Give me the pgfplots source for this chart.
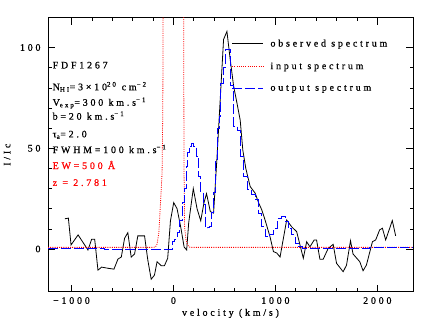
\documentclass[border=0pt]{standalone}
\usepackage{fontspec}
\setmainfont{Liberation Serif}[LetterSpace=28, FakeBold=0.6]
\usepackage{pgfplots}
\pgfplotsset{compat=1.18}
\newcommand\pg{\fontsize{10}{12}\selectfont}
\begin{document}
\begin{tikzpicture}
\begin{axis}[
 scale only axis, width=365bp, height=274bp,
 xmin=-1230, xmax=2350, ymin=-21.2, ymax=114.8,
 xtick={-1000,0,1000,2000}, xticklabels={−1000,0,1000,2000},
 minor x tick num=4,
 ytick={0,50,100}, yticklabels={0,50,100},
 minor y tick num=4,
 major tick length=7bp, minor tick length=3.5bp,
 tick style={black, line width=0.6pt},
 axis line style={line width=0.8pt},
 ticklabel style={font=\pg},
 xticklabel style={yshift=-2bp},
 yticklabel style={xshift=-4bp},
 xlabel={velocity (km/s)}, ylabel={I/Ic},
 label style={font=\pg},
 xlabel style={at={(axis description cs:0.5,-0.079)}, anchor=center},
 ylabel style={at={(axis description cs:-0.112,0.5)}, anchor=center},
 legend style={at={(axis cs:570,105)}, anchor=north west, draw=none, fill=none, font=\pg, row sep=10.5bp, inner sep=0pt,
   /tikz/every odd column/.append style={column sep=5bp}},
 legend cell align=left,
 legend image code/.code={\draw[#1] plot coordinates {(0bp,0bp) (31bp,0bp)};},
]
\addplot[black, line width=0.8pt] coordinates {
(-1065,15) (-1030,15.3) (-1004,2) (-935,7) (-838,-0.5) (-802,4.8) (-772,4.8)
(-740,-10.5) (-704,-9) (-638,-9.6) (-583,-10) (-544,-5) (-511,-4) (-479,5.3)
(-447,8.1) (-414,-4) (-381,-2.5) (-349,6.5) (-283,6.5) (-251,-5.5) (-218,-15)
(-186,-13) (-160,-6.3) (-120,-8.3) (-88,-8.3) (-56,-4.6) (-29,14) (3,23) (36,20)
(75,10) (105,1) (130,-0.5) (150,13) (195,30) (232,20) (268,14) (300,23) (325,27.5)
(362,18.6) (394,17.8) (427,45) (460,75) (492,104) (525,108) (555,95) (590,81)
(625,72) (655,64) (681,49) (710,40) (753,31) (802,27.7) (835,23) (867,19.4)
(899,14.4) (948,6) (981,-1.3) (1014,-2) (1046,-4) (1111,14.4) (1160,11) (1209,8.6)
(1274,-4.6) (1307,3.6) (1339,1.1) (1381,4.5) (1404,4.5) (1437,-5.1) (1469,-5.1)
(1518,0.3) (1567,2.3) (1600,-7.1) (1665,-11.3) (1698,-8) (1737,4.1) (1762,-2.5)
(1828,-6.3) (1860,-10.8) (1893,-8) (1952,3.6) (1984,4.5) (2023,9.5) (2050,10.3)
(2082,4.5) (2147,14.1) (2180,6.5)
};
\addlegendentry{observed spectrum}
\addplot[red, line width=0.8pt, dash pattern=on 1bp off 1.2bp] coordinates {
(-1230,0.8) (-200,0.8) (-176,1) (-160,2.5) (-143,8) (-134,16) (-120,29) (-111,38)
(-104,70) (-100,130) (-95,300) (95,300) (100,130) (104,40) (110,11) (122,5)
(134,2.8) (150,1.2) (166,0.8) (2350,0.8)
};
\addlegendentry{input spectrum}
\addplot[blue, line width=0.8pt, dash pattern=on 10bp off 3bp, const plot mark mid] coordinates {
(-1230,0.3) (-127,-0.3) (-29,0) (3,3.6) (20,5) (50,8) (75,14) (100,23) (120,30)
(134,41) (150,48) (166,51) (190,52.5) (210,51) (232,46) (258,36) (280,28) (300,22)
(320,11) (340,10.5) (362,11) (380,18) (405,28) (420,44) (440,60) (453,66) (476,82)
(500,90) (518,99) (541,99) (574,81) (606,61) (648,59) (671,46) (704,36) (753,29.4)
(785,27) (818,24.4) (850,17.8) (880,11) (916,6.1) (965,7) (1000,10) (1046,15.3)
(1078,16) (1111,13.6) (1140,10) (1176,7) (1210,3) (1241,1.1) (1280,0.5) (1900,0.5)
(1950,1) (2200,1) (2250,0.6) (2350,0.6)
};
\addlegendentry{output spectrum}
\begin{scope}[every node/.style={anchor=base west, font=\pg, inner sep=0pt}]
\node at (axis cs:-1186,89.6) {FDF1267};
\node at (axis cs:-1186,78.8) {N\textsubscript{HI}=3×10\textsuperscript{20} cm\textsuperscript{−2}};
\node at (axis cs:-1186,71.1) {V\textsubscript{exp}=300 km.s\textsuperscript{−1}};
\node at (axis cs:-1186,64.2) {b=20 km.s\textsuperscript{−1}};
\node at (axis cs:-1186,55.4) {τ\textsubscript{a}=2.0};
\node at (axis cs:-1186,47.6) {FWHM=100 km.s\textsuperscript{−1}};
\node[text=red] at (axis cs:-1186,39.7) {EW=500 Å};
\node[text=red] at (axis cs:-1186,31.3) {z = 2.781};
\end{scope}
\end{axis}
\pgfresetboundingbox
\path (current axis.south west) ++(-48bp,-35.3bp) rectangle ++(436bp,327bp);
\end{tikzpicture}
\end{document}
